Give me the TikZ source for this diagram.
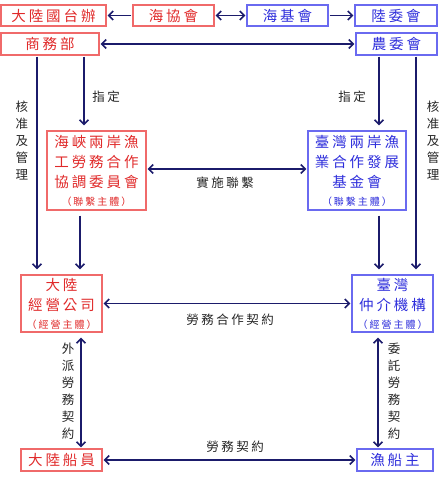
\documentclass[tikz,border=0pt]{standalone}
\usepackage{fontspec}
\newfontfamily\cjk[LetterSpace=20]{Noto Sans CJK TC}
\usetikzlibrary{shapes,arrows,arrows.meta}
\definecolor{redline}{HTML}{F06A6A}
\definecolor{redtext}{HTML}{E02A2A}
\definecolor{blueline}{HTML}{6A6AF0}
\definecolor{bluetext}{HTML}{2E2EDB}
\definecolor{navy}{HTML}{1B1B6B}
\newcommand{\bodytag}[1]{\\[-2pt]{\fontsize{10}{12}\selectfont （#1）}}
\tikzset{
  redbox/.style  = {draw=redline, text=redtext, line width=1.2pt, inner sep=0pt,
                    align=center, font=\cjk\fontsize{14.5}{20}\selectfont},
  bluebox/.style = {draw=blueline, text=bluetext, line width=1.2pt, inner sep=0pt,
                    align=center, font=\cjk\fontsize{14.5}{20}\selectfont},
  tag/.style     = {text=black!85, inner sep=0pt, align=center,
                    font=\cjk\fontsize{12.5}{17}\selectfont},
  node distance  = 2cm
}

\begin{document}
\begin{tikzpicture}[x=1pt,y=-1pt]
	\useasboundingbox (0,0) rectangle (447,481);
	% top rows
	\node[redbox, minimum width=105, minimum height=21] (tao) at (53.5,15.5) {大陸國台辦};
	\node[redbox, minimum width=81, minimum height=21] (arats) at (173.5,15.5) {海協會};
	\node[bluebox, minimum width=81, minimum height=21] (sef) at (287.5,15.5) {海基會};
	\node[bluebox, minimum width=82, minimum height=21] (mac) at (396,15.5) {陸委會};
	\node[redbox, minimum width=98, minimum height=22] (mofcom) at (50,44) {商務部};
	\node[bluebox, minimum width=81, minimum height=22] (coa) at (396.5,44) {農委會};
	% liaison bodies
	\node[redbox, minimum width=99, minimum height=79] (cfl) at (96.5,170.5)
		{海峽兩岸漁\\工勞務合作\\協調委員會\bodytag{聯繫主體}};
	\node[bluebox, minimum width=98, minimum height=79] (tff) at (357,170.5)
		{臺灣兩岸漁\\業合作發展\\基金會\bodytag{聯繫主體}};
	% operating bodies
	\node[redbox, minimum width=81, minimum height=57] (dlco) at (61.5,303.5)
		{大陸\\經營公司\bodytag{經營主體}};
	\node[bluebox, minimum width=81, minimum height=57] (twag) at (392.5,303.5)
		{臺灣\\仲介機構\bodytag{經營主體}};
	\node[redbox, minimum width=81, minimum height=22] (crew) at (61.5,460) {大陸船員};
	\node[bluebox, minimum width=76, minimum height=22] (owner) at (395,460) {漁船主};
	% labels
	\node[tag] (zdl) at (106,97) {指定};
	\node[tag] (zdr) at (352,97) {指定};
	\node[tag] (hzl) at (22,141) {核\\准\\及\\管\\理};
	\node[tag] (hzr) at (433,141) {核\\准\\及\\管\\理};
	\node[tag] (ssl) at (225,183) {實施聯繫};
	\node[tag] (lwh) at (230,320) {勞務合作契約};
	\node[tag] (wpl) at (68,391) {外\\派\\勞\\務\\契\\約};
	\node[tag] (wtl) at (394,391) {委\\託\\勞\\務\\契\\約};
	\node[tag] (lwq) at (235,447) {勞務契約};
	\tikzstyle{EdgeStyle}=[draw=navy, line width=1.6pt, >={Straight Barb[length=4.5pt,width=9pt]},
		shorten >=1pt, shorten <=1pt]
	\tikzstyle{DownStyle}=[EdgeStyle, shorten >=5pt]
	\draw[EdgeStyle,->] (arats) -- (tao);
	\draw[EdgeStyle,<->] (arats) -- (sef);
	\draw[EdgeStyle,->] (sef) -- (mac);
	\draw[EdgeStyle,<->] (mofcom) -- (coa);
	\draw[DownStyle,->] (37,0 |- mofcom.south) -- (37,0 |- dlco.north);
	\draw[DownStyle,->] (84,0 |- mofcom.south) -- (84,0 |- cfl.north);
	\draw[DownStyle,->] (379,0 |- coa.south) -- (379,0 |- tff.north);
	\draw[DownStyle,->] (416,0 |- coa.south) -- (416,0 |- twag.north);
	\draw[EdgeStyle,<->] (cfl.east |- 0,169) -- (tff.west |- 0,169);
	\draw[DownStyle,->, shorten <=5pt] (80,0 |- cfl.south) -- (80,0 |- dlco.north);
	\draw[DownStyle,->, shorten <=5pt] (379,0 |- tff.south) -- (379,0 |- twag.north);
	\draw[EdgeStyle,<->] (dlco) -- (twag);
	\draw[EdgeStyle,<->, shorten <=5pt] (81,0 |- dlco.south) -- (81,0 |- crew.north);
	\draw[EdgeStyle,<->, shorten <=5pt] (378,0 |- twag.south) -- (378,0 |- owner.north);
	\draw[EdgeStyle,<->] (crew) -- (owner);
\end{tikzpicture}
\end{document}
